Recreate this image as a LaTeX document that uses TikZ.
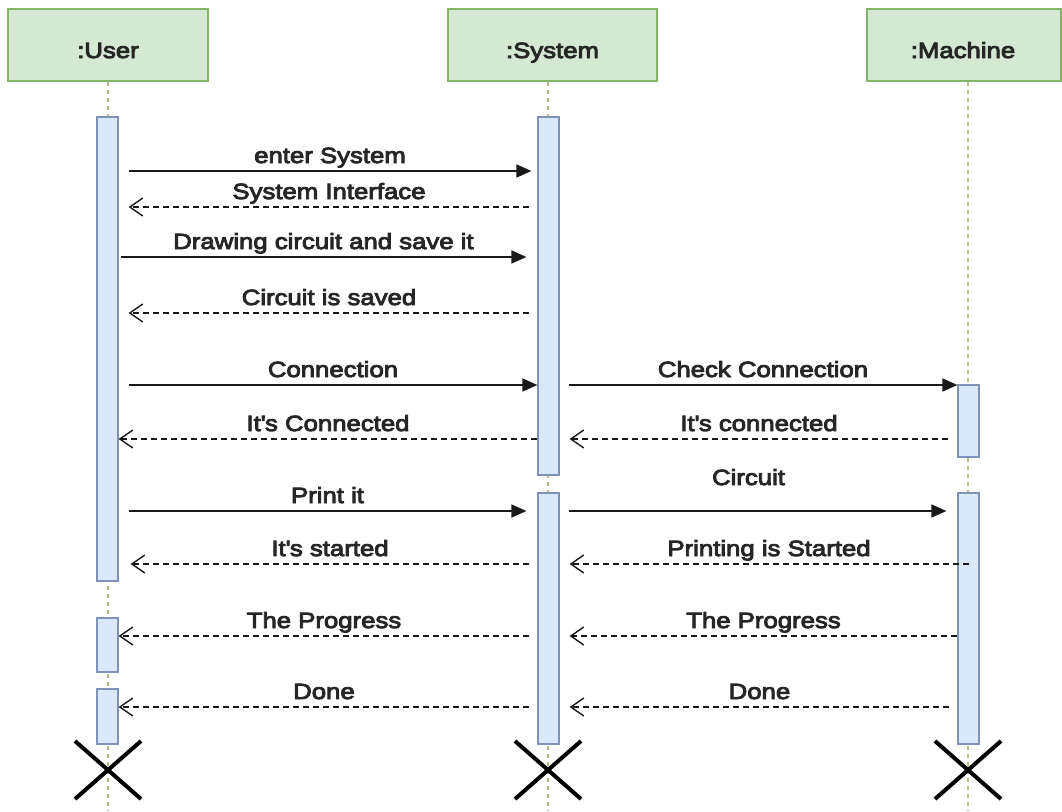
\documentclass[tikz,border=0pt]{standalone}
\usepackage{fontspec}
\setmainfont{Liberation Sans}[FakeStretch=1.17,FakeBold=4]
\usetikzlibrary{arrows.meta,calc,fit,shapes.misc}

\definecolor{headfill}{HTML}{D5E8D4}
\definecolor{headline}{HTML}{82B366}
\definecolor{barfill}{HTML}{DAE8FC}
\definecolor{barline}{HTML}{7E93B8}
\definecolor{lifeline}{HTML}{B9B98E}
\definecolor{txt}{HTML}{262626}

\newcommand{\apos}{\textquotesingle}

\tikzset{
  x=1pt, y=-1pt,
  every node/.style={font=\fontsize{22}{26}\selectfont, text=txt},
  head/.style={draw=headline, fill=headfill, line width=1.2pt, inner sep=0pt},
  bar/.style={draw=barline, fill=barfill, line width=1.2pt, inner sep=0pt},
  life/.style={draw=lifeline, line width=1.3pt, dash pattern=on 4pt off 4pt},
  call/.style={draw=black!90, line width=1.5pt, -{Triangle[length=15pt,width=13pt]}},
  reply/.style={draw=black!90, line width=1.4pt, dash pattern=on 6pt off 4pt,
    -{Straight Barb[length=13pt,width=18pt,line width=1.4pt]}},
  lbl/.style={anchor=base, yshift=8pt, inner sep=0pt},
  xmark/.style={cross out, draw=black, line width=4pt, minimum width=62pt,
    minimum height=54pt, inner sep=0pt},
}

\begin{document}
\begin{tikzpicture}
  % canvas
  \fill[white] (0,0) rectangle (1062,811);
  \useasboundingbox (0,0) rectangle (1062,811);

  % participants
  \node[head, fit={(8,9) (208,81)}] (huser) {};
  \node[head, fit={(448,9) (657,81)}] (hsys) {};
  \node[head, fit={(867,9) (1061,81)}] (hmach) {};
  \node[anchor=base] (tuser) at ($(huser.center)+(0,13)$) {:User};
  \node[anchor=base] (tsys) at ($(hsys.center)+(0,13)$) {:System};
  \node[anchor=base] (tmach) at ($(hmach.center |- huser.center)+(-1,13)$) {:Machine};

  % lifelines
  \coordinate (uend) at (108,811);
  \coordinate (send) at (548,811);
  \coordinate (mend) at (968,811);
  \draw[life] (huser.south -| uend) -- (uend);
  \draw[life] (hsys.south -| send) -- (send);
  \draw[life] (hmach.south -| mend) -- (mend);

  % activation bars
  \node[bar, fit={(97,117) (118,581)}] (u1) {};
  \node[bar, fit={(97,618) (118,672)}] (u2) {};
  \node[bar, fit={(97,689) (118,744)}] (u3) {};
  \node[bar, fit={(538,117) (559,475)}] (s1) {};
  \node[bar, fit={(538,493) (559,744)}] (s2) {};
  \node[bar, fit={(958,385) (979,457)}] (m1) {};
  \node[bar, fit={(958,493) (979,744)}] (m2) {};

  % destruction marks
  \node[xmark] (ux) at (108,770) {};
  \node[xmark] (sx) at (548,770) {};
  \node[xmark] (mx) at (968,770) {};

  % User <-> System
  \draw[call] ($(u1.east |- 0,171)+(10,0)$) -- node[lbl] {enter System} ($(s1.west |- 0,171)+(-6,0)$);
  \draw[reply] ($(s1.west |- 0,207)+(-8,0)$) -- node[lbl] {System Interface} ($(u1.east |- 0,207)+(10,0)$);
  \draw[call] ($(u1.east |- 0,257)+(2,0)$) -- node[lbl] {Drawing circuit and save it} ($(s1.west |- 0,257)+(-11,0)$);
  \draw[reply] ($(s1.west |- 0,313)+(-8,0)$) -- node[lbl] {Circuit is saved} ($(u1.east |- 0,313)+(10,0)$);
  \draw[call] ($(u1.east |- 0,385)+(10,0)$) -- node[lbl] {Connection} (s1.west |- 0,385);
  \draw[reply] (s1.west |- 0,439) -- node[lbl] {It\apos s Connected} (u1.east |- 0,439);
  \draw[call] ($(u1.east |- 0,511)+(10,0)$) -- node[lbl] {Print it} ($(s2.west |- 0,511)+(-11,0)$);
  \draw[reply] ($(s2.west |- 0,564)+(-8,0)$) -- node[lbl] {It\apos s started} ($(u1.east |- 0,564)+(12,0)$);
  \draw[reply] ($(s2.west |- 0,636)+(-8,0)$) -- node[lbl] {The Progress} (u2.east |- 0,636);
  \draw[reply] ($(s2.west |- 0,707)+(-8,0)$) -- node[lbl] {Done} (u3.east |- 0,707);

  % System <-> Machine
  \draw[call] ($(s1.east |- 0,385)+(9,0)$) -- node[lbl] {Check Connection} (m1.west |- 0,385);
  \draw[reply] ($(m1.west |- 0,439)+(-9,0)$) -- node[lbl] {It\apos s connected} ($(s1.east |- 0,439)+(10,0)$);
  \draw[call] ($(s2.east |- 0,511)+(9,0)$) -- node[lbl, yshift=18pt, xshift=-9pt] {Circuit} ($(m2.west |- 0,511)+(-11,0)$);
  \draw[reply] (m2.center |- 0,564) -- node[lbl] {Printing is Started} ($(s2.east |- 0,564)+(10,0)$);
  \draw[reply] (m2.west |- 0,636) -- node[lbl] {The Progress} ($(s2.east |- 0,636)+(10,0)$);
  \draw[reply] ($(m2.west |- 0,707)+(-8,0)$) -- node[lbl] {Done} ($(s2.east |- 0,707)+(10,0)$);
\end{tikzpicture}
\end{document}
